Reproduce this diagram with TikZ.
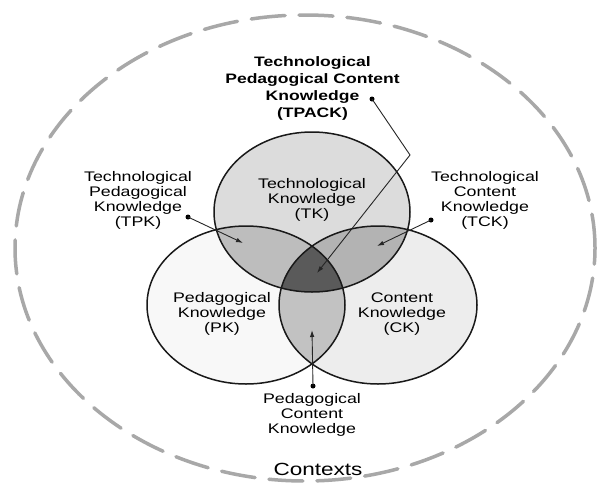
\documentclass[tikz,border=0pt]{standalone}
\usepackage{fontspec}
\setmainfont{Liberation Sans}[FakeStretch=1.28]
\usetikzlibrary{arrows.meta}
\definecolor{tkc}{HTML}{DCDCDC}
\definecolor{pkc}{HTML}{F8F8F8}
\definecolor{ckc}{HTML}{EDEDED}
\definecolor{tpkc}{HTML}{BDBDBD}
\definecolor{tckc}{HTML}{B3B3B3}
\definecolor{pckc}{HTML}{C2C2C2}
\definecolor{tpackc}{HTML}{5A5A5A}
\definecolor{ctxc}{HTML}{A8A8A8}
\tikzset{
  lbl/.style={align=center, inner sep=0pt, font=\fontsize{13.9}{15}\selectfont},
  blbl/.style={align=center, inner sep=0pt, font=\fontsize{13.7}{17}\selectfont\bfseries},
  dotnode/.style={circle, fill=black, inner sep=0pt, minimum size=5pt},
  conn/.style={line width=0.9pt, draw=black!85},
  arr/.style={conn, -{Latex[length=7pt,width=4.5pt]}},
  ring/.style={line width=1.5pt, draw=black!90},
}
\begin{document}
\begin{tikzpicture}[x=1pt,y=-1pt]
\useasboundingbox (0,0) rectangle (599,485);
\fill[white] (0,0) rectangle (599,485);
% outer context
\draw[ctxc, line width=3.5pt, line cap=round, dash pattern=on 34pt off 14pt]
  (305,248) ellipse [x radius=290pt, y radius=233pt];
% base fills
\fill[pkc] (246,305) ellipse [x radius=99pt, y radius=79pt];
\fill[ckc] (378,305) ellipse [x radius=99pt, y radius=79pt];
\fill[tkc] (312,212) ellipse [x radius=98pt, y radius=80pt];
% intersections
\begin{scope}
  \clip (312,212) ellipse [x radius=98pt, y radius=80pt];
  \fill[tpkc] (246,305) ellipse [x radius=99pt, y radius=79pt];
  \fill[tckc] (378,305) ellipse [x radius=99pt, y radius=79pt];
\end{scope}
\begin{scope}
  \clip (246,305) ellipse [x radius=99pt, y radius=79pt];
  \fill[pckc] (378,305) ellipse [x radius=99pt, y radius=79pt];
  \clip (378,305) ellipse [x radius=99pt, y radius=79pt];
  \fill[tpackc] (312,212) ellipse [x radius=98pt, y radius=80pt];
\end{scope}
% outlines
\draw[ring] (246,305) ellipse [x radius=99pt, y radius=79pt];
\draw[ring] (378,305) ellipse [x radius=99pt, y radius=79pt];
\draw[ring] (312,212) ellipse [x radius=98pt, y radius=80pt];
% labels
\node[blbl] (tpack) at (312.5,88) {Technological\\Pedagogical Content\\Knowledge\\(TPACK)};
\node[lbl] (tk) at (312,200) {Technological\\Knowledge\\(TK)};
\node[lbl] (tpk) at (138,200) {Technological\\Pedagogical\\Knowledge\\(TPK)};
\node[lbl] (tck) at (485,200) {Technological\\Content\\Knowledge\\(TCK)};
\node[lbl] (pk) at (222,314) {Pedagogical\\Knowledge\\(PK)};
\node[lbl] (ck) at (402,314) {Content\\Knowledge\\(CK)};
\node[lbl] (pck) at (312,415) {Pedagogical\\Content\\Knowledge};
\node[lbl, font=\fontsize{17.6}{19}\selectfont] (ctx) at (318,469) {Contexts};
% dots and tips
\node[dotnode] (dtpack) at (372,99) {};
\node[dotnode] (dtpk) at (188,217) {};
\node[dotnode] (dtck) at (431,220) {};
\node[dotnode] (dpck) at (313,386) {};
\coordinate (bend) at (410,155);
\coordinate (ttpack) at (317,273);
\coordinate (ttpk) at (243,243);
\coordinate (ttck) at (377,246);
\coordinate (tpck) at (312,330);
% connectors
\draw[arr] (dtpack.center) -- (bend) -- (ttpack);
\draw[arr] (dtpk.center) -- (ttpk);
\draw[arr] (dtck.center) -- (ttck);
\draw[arr] (dpck.center) -- (tpck);
\end{tikzpicture}
\end{document}
